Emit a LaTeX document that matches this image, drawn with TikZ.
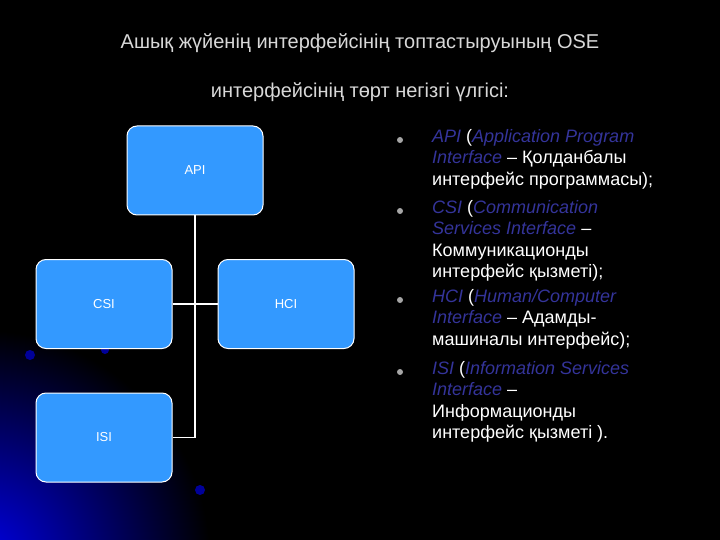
\documentclass[tikz,border=0pt]{standalone}
\usepackage{fontspec}
\setmainfont{Liberation Sans}
\definecolor{boxblue}{HTML}{3399FF}
\definecolor{navy}{HTML}{34349A}
\definecolor{ttl}{HTML}{D8D8D8}
\begin{document}
\begin{tikzpicture}[x=1pt,y=-1pt,
  box/.style={draw=white,line width=1pt,fill=boxblue,rounded corners=10pt,minimum width=136pt,minimum height=89pt,text=white,font=\fontsize{13}{15}\selectfont},
  conn/.style={draw=white,line width=1.4pt},
  bul/.style={anchor=north west,align=left,text=white,inner sep=0pt,font=\fontsize{18}{21.5}\selectfont},
  dot/.style={circle,fill=gray!70,inner sep=0pt,minimum size=6pt}]
\fill[black] (0,0) rectangle (720,540);
\begin{scope}
\clip (0,0) rectangle (720,540);
\shade[inner color=blue!90!black,outer color=black] (-20,560) circle (230);
\foreach \r/\c in {300/blue!60!black,320/blue!50!black,345/blue!45!black,380/blue!35!black}
  \draw[\c,line width=1pt] (-40,720) ++(70:\r) arc (70:20:\r);
\fill[blue!60!black] (30,355) circle (5);
\fill[blue!60!black] (200,490) circle (5);
\fill[blue!60!black] (105,350) circle (4);
\end{scope}
\node[text=ttl,font=\fontsize{20}{24}\selectfont] (t1) at (360,43) {Ашық жүйенің интерфейсінің топтастыруының OSE};
\node[text=ttl,font=\fontsize{20}{24}\selectfont] (t2) at (360,92) {интерфейсінің төрт негізгі үлгісі:};
\node[box] (api) at (195,170.5) {API};
\node[box] (csi) at (104,304) {CSI};
\node[box] (hci) at (286,304) {HCI};
\node[box] (isi) at (104,437.5) {ISI};
\coordinate (j1) at (195,304);
\coordinate (j2) at (195,437.5);
\draw[conn] (api.south) -- (j2) -- (isi.east);
\draw[conn] (csi.east) -- (hci.west);
\node[dot] (b1) at (400,140) {};
\node[dot] (b2) at (400,211) {};
\node[dot] (b3) at (400,300) {};
\node[dot] (b4) at (400,372) {};
\node[bul] (l1) at (432,129) {\textcolor{navy}{\itshape API} (\textcolor{navy}{\itshape Application Program}\\\textcolor{navy}{\itshape Interface} – Қолданбалы\\интерфейс программасы);};
\node[bul] (l2) at (432,200) {\textcolor{navy}{\itshape CSI} (\textcolor{navy}{\itshape Communication}\\\textcolor{navy}{\itshape Services Interface} –\\Коммуникационды\\интерфейс қызметі);};
\node[bul] (l3) at (432,289) {\textcolor{navy}{\itshape HCI} (\textcolor{navy}{\itshape Human/Computer}\\\textcolor{navy}{\itshape Interface} – Адамды-\\машиналы интерфейс);};
\node[bul] (l4) at (432,361) {\textcolor{navy}{\itshape ISI} (\textcolor{navy}{\itshape Information Services}\\\textcolor{navy}{\itshape Interface} –\\Информационды\\интерфейс қызметі ).};
\end{tikzpicture}
\end{document}
